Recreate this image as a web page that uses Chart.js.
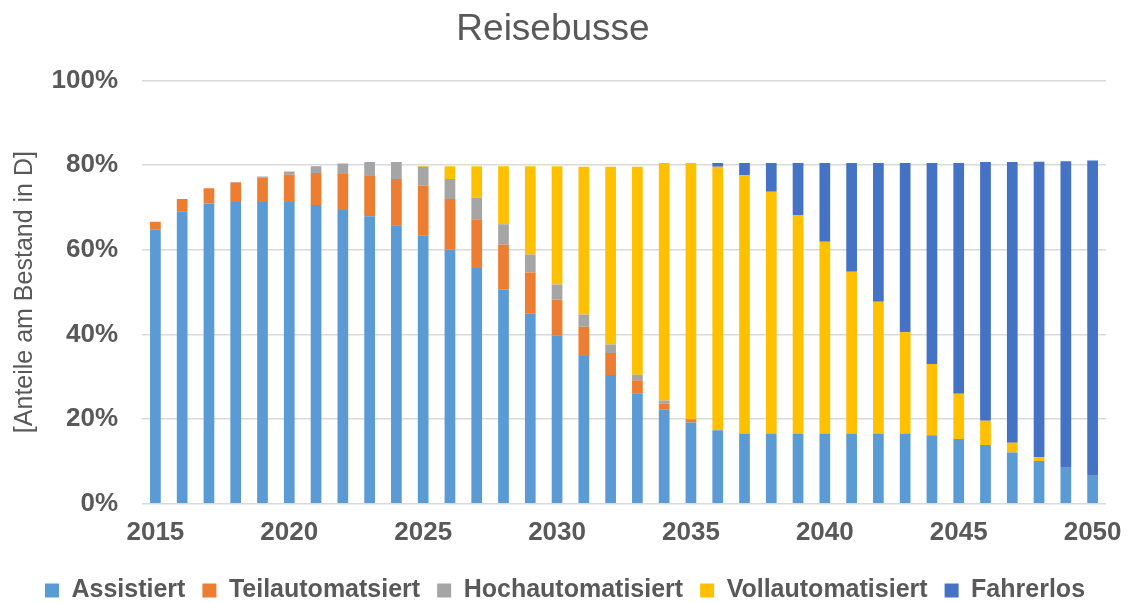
<!DOCTYPE html>
<html>
<head>
<meta charset="utf-8">
<script src="https://cdn.jsdelivr.net/npm/chart.js@4/dist/chart.umd.min.js"></script>
<style>
	html, body { margin: 0; padding: 0; background: #fff; }
	#wrap { width: 1130px; height: 603px; }
</style>
</head>
<body>
<div id="wrap"><canvas id="chart" width="1130" height="603"></canvas></div>
<script>
var years = [];
for(var y = 2015; y <= 2050; y++){
	years.push(String(y));
}

var assistiert = [64.7, 69.1, 70.9, 71.3, 71.3, 71.3, 70.6, 69.4, 67.9, 65.8, 63.4, 60.0,
	55.7, 50.6, 44.9, 39.8, 34.9, 30.4, 26.1, 22.2, 19.2, 17.4, 16.6, 16.6,
	16.6, 16.6, 16.6, 16.6, 16.6, 16.2, 15.3, 13.9, 12.1, 10.1, 8.5, 6.6];
var teilautomatsiert = [1.9, 2.9, 3.6, 4.6, 5.7, 6.4, 7.5, 8.5, 9.7, 10.9, 11.7, 12.0,
	11.5, 10.6, 9.7, 8.4, 6.9, 5.2, 3.1, 1.5, 0.6, 0, 0, 0,
	0, 0, 0, 0, 0, 0, 0, 0, 0, 0, 0, 0];
var hochautomatisiert = [0, 0, 0, 0.1, 0.3, 0.8, 1.6, 2.5, 3.1, 4.0, 4.5, 4.7,
	5.1, 4.8, 4.3, 3.6, 2.9, 2.0, 1.3, 0.7, 0.2, 0, 0, 0,
	0, 0, 0, 0, 0, 0, 0, 0, 0, 0, 0, 0];
var vollautomatisiert = [0, 0, 0, 0, 0, 0, 0, 0, 0, 0, 0.2, 3.0,
	7.4, 13.7, 20.8, 27.9, 34.9, 42.0, 49.1, 56.1, 60.5, 62.2, 61.0, 57.1,
	51.6, 45.3, 38.2, 31.1, 23.9, 16.8, 10.7, 5.7, 2.3, 0.9, 0, 0];
var fahrerlos = [0, 0, 0, 0, 0, 0, 0, 0, 0, 0, 0, 0,
	0, 0, 0, 0, 0, 0, 0, 0, 0, 0.9, 2.9, 6.8,
	12.3, 18.6, 25.7, 32.8, 40.0, 47.5, 54.5, 61.1, 66.3, 69.8, 72.4, 74.5];

var yTicks = [0, 20, 40, 60, 80, 100];

var textColor = '#595959';
var font = 'Liberation Sans, Arial, sans-serif';

function series(label, data, color){
	return {
		label: label,
		data: data,
		backgroundColor: color,
		borderWidth: 0,
		barPercentage: 0.4,
		categoryPercentage: 1
	};
}

// legend is centred on the whole canvas, not on the padded area
var legendShift = {
	id: 'legendShift',
	afterLayout: function(chart){
		chart.legend.left += 12;
		chart.legend.right += 12;
	}
};

new Chart(document.getElementById('chart'), {
	type: 'bar',
	data: {
		labels: years,
		datasets: [
			series('Assistiert', assistiert, '#5B9BD5'),
			series('Teilautomatsiert', teilautomatsiert, '#ED7D31'),
			series('Hochautomatisiert', hochautomatisiert, '#A5A5A5'),
			series('Vollautomatisiert', vollautomatisiert, '#FFC000'),
			series('Fahrerlos', fahrerlos, '#4472C4')
		]
	},
	plugins: [legendShift],
	options: {
		responsive: false,
		animation: false,
		layout: {padding: {left: 0, right: 24, top: 0, bottom: -10}},
		plugins: {
			tooltip: {enabled: false},
			title: {
				display: true,
				text: 'Reisebusse',
				color: textColor,
				font: {family: font, size: 37, weight: 'normal'},
				padding: {top: 8, bottom: 28}
			},
			legend: {
				position: 'bottom',
				labels: {
					color: textColor,
					font: {family: font, size: 25, weight: 'bold'},
					boxWidth: 14,
					boxHeight: 14,
					padding: 17
				}
			}
		},
		scales: {
			x: {
				stacked: true,
				grid: {display: false},
				border: {display: false},
				afterFit: function(axis){
					axis.height += 8;
				},
				ticks: {
					autoSkip: false,
					maxRotation: 0,
					padding: 5,
					color: textColor,
					font: {family: font, size: 26, weight: 'bold'},
					callback: function(value, index){
						var label = years[index];
						return (Number(label) - 2015) % 5 === 0 ? label : '';
					}
				}
			},
			y: {
				stacked: true,
				min: 0,
				max: 100,
				afterBuildTicks: function(axis){
					axis.ticks = yTicks.map(function(v){ return {value: v}; });
				},
				afterFit: function(axis){
					axis.width = 142;
				},
				grid: {color: '#d9d9d9', lineWidth: 1.5, drawTicks: false},
				border: {display: false},
				ticks: {
					padding: 24,
					color: textColor,
					font: {family: font, size: 26, weight: 'bold'},
					callback: function(value){ return value + '%'; }
				},
				title: {
					display: true,
					text: '[Anteile am Bestand in D]',
					color: textColor,
					font: {family: font, size: 25, weight: 'normal'},
					padding: {top: 10, bottom: 0}
				}
			}
		}
	}
});
</script>
</body>
</html>
